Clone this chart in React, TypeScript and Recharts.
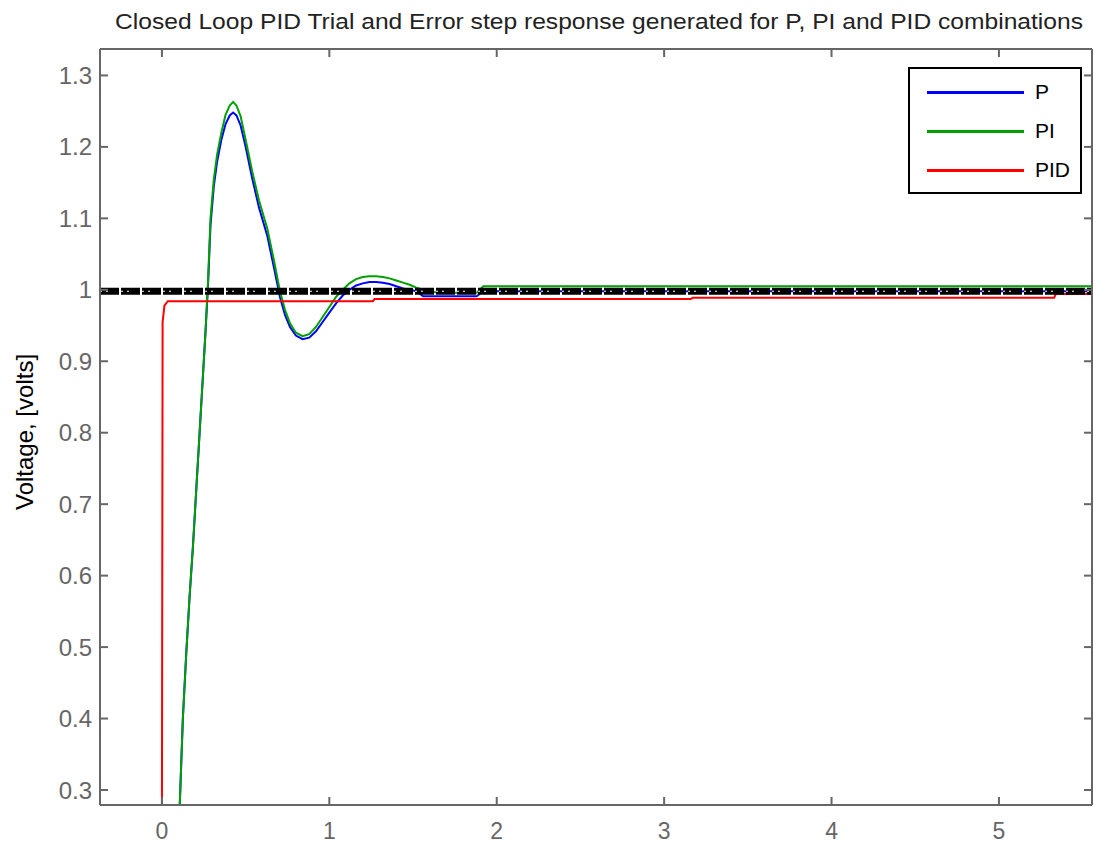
import {
  Line,
  LineChart,
  ReferenceLine,
  XAxis,
  YAxis,
} from "recharts";

const W = 1094;
const H = 843;
const FONT = "'Liberation Sans', Arial, sans-serif";
const AXIS = "#666666";

const title =
  "Closed Loop PID Trial and Error step response generated for P, PI and PID combinations";
const yLabel = "Voltage, [volts]";

const xTicks = [0, 1, 2, 3, 4, 5];
const yTicks = [0.3, 0.4, 0.5, 0.6, 0.7, 0.8, 0.9, 1.0, 1.1, 1.2, 1.3];

// time base shared by P and PI traces
const time = [
  0.105, 0.125, 0.145, 0.165, 0.185, 0.205, 0.225, 0.245, 0.26, 0.275, 0.29,
  0.31, 0.33, 0.355, 0.38, 0.405, 0.425, 0.445, 0.47, 0.5, 0.54, 0.58, 0.63,
  0.67, 0.705, 0.735, 0.765, 0.8, 0.84, 0.88, 0.92, 0.96, 1.0, 1.04, 1.08,
  1.12, 1.16, 1.2, 1.24, 1.28, 1.32, 1.36, 1.4, 1.44, 1.48, 1.52, 1.56, 1.6,
  1.65, 1.7, 1.8, 1.88, 1.92, 2.0, 5.56,
];
const pVolts = [
  0.27, 0.4, 0.49, 0.57, 0.64, 0.72, 0.8, 0.88, 0.94, 1.005, 1.09, 1.145, 1.18,
  1.21, 1.232, 1.244, 1.248, 1.244, 1.23, 1.2, 1.155, 1.115, 1.075, 1.03, 0.99,
  0.965, 0.948, 0.936, 0.931, 0.933, 0.942, 0.955, 0.968, 0.981, 0.992, 1.0,
  1.006, 1.009, 1.011, 1.011, 1.01, 1.008, 1.005, 1.002, 1.0, 0.998, 0.991,
  0.991, 0.991, 0.991, 0.991, 0.991, 0.998, 0.998, 0.998,
];
const piVolts = [
  0.27, 0.4, 0.49, 0.57, 0.64, 0.72, 0.8, 0.88, 0.94, 1.01, 1.1, 1.155, 1.19,
  1.22, 1.245, 1.258, 1.263, 1.258, 1.243, 1.21, 1.165, 1.125, 1.085, 1.04,
  0.998, 0.972, 0.953, 0.94, 0.935, 0.938, 0.948, 0.962, 0.976, 0.99, 1.0,
  1.009, 1.015, 1.018, 1.019, 1.019, 1.018, 1.016, 1.013, 1.01, 1.007, 1.003,
  1.0, 0.998, 0.996, 0.996, 0.996, 0.996, 1.005, 1.005, 1.005,
];

const pidTime = [0, 0.004, 0.015, 0.035, 1.26, 1.27, 3.16, 3.17, 5.33, 5.34, 5.56];
const pidVolts = [
  0.27, 0.955, 0.978, 0.984, 0.984, 0.987, 0.987, 0.989, 0.989, 0.994, 0.994,
];

const setPoint = 0.998;

const data = time.map((t, i) => ({ t, p: pVolts[i], pi: piVolts[i] }));
const pidData = pidTime.map((t, i) => ({ t, pid: pidVolts[i] }));

const series = [
  { key: "p", name: "P", color: "#0000ff" },
  { key: "pi", name: "PI", color: "#00a000" },
  { key: "pid", name: "PID", color: "#ff0000" },
];

const xDomain: [number, number] = [-0.37, 5.556];
const yDomain: [number, number] = [0.279, 1.337];

const tickStyle = { fontFamily: FONT, fontSize: 24, fill: AXIS };
const xTickStyle = { fontFamily: FONT, fontSize: 23, fill: AXIS };

function LegendBox() {
  return (
    <div
      style={{
        position: "absolute",
        left: 908,
        top: 67,
        width: 170,
        height: 123,
        border: "2.5px solid #000",
        background: "#fff",
        fontFamily: FONT,
        fontSize: 21,
        color: "#000",
      }}
    >
      {series.map((s, i) => (
        <div
          key={s.key}
          style={{
            position: "absolute",
            left: 17,
            top: 10 + i * 39,
            display: "flex",
            alignItems: "center",
            height: 26,
          }}
        >
          <div style={{ width: 97, height: 3, background: s.color }} />
          <span style={{ marginLeft: 11 }}>{s.name}</span>
        </div>
      ))}
    </div>
  );
}

const noTick = () => <g />;

export default function App() {
  return (
    <div
      style={{
        position: "absolute",
        left: 0,
        top: 0,
        width: W,
        height: H,
        background: "#fff",
      }}
    >
      <LineChart
        width={W}
        height={H}
        data={data}
        margin={{ top: 48, right: 1, bottom: 0, left: 0 }}
      >
        <XAxis
          dataKey="t"
          type="number"
          domain={xDomain}
          ticks={xTicks}
          allowDataOverflow
          height={38}
          tickSize={-8}
          tickMargin={26}
          tick={xTickStyle}
          stroke={AXIS}
          strokeWidth={2}
          interval={0}
        />
        <XAxis
          xAxisId="top"
          orientation="top"
          dataKey="t"
          type="number"
          domain={xDomain}
          ticks={xTicks}
          allowDataOverflow
          height={1}
          tickSize={-8}
          tick={noTick}
          stroke={AXIS}
          strokeWidth={2}
          interval={0}
        />
        <YAxis
          type="number"
          domain={yDomain}
          ticks={yTicks}
          allowDataOverflow
          width={100}
          tickSize={-8}
          tickMargin={16}
          tick={tickStyle}
          tickFormatter={(v: number) => String(+v.toFixed(1))}
          stroke={AXIS}
          strokeWidth={2}
          interval={0}
        />
        <YAxis
          yAxisId="right"
          orientation="right"
          type="number"
          domain={yDomain}
          ticks={yTicks}
          allowDataOverflow
          width={1}
          tickSize={-8}
          tick={noTick}
          stroke={AXIS}
          strokeWidth={2}
          interval={0}
        />
        <Line
          dataKey="p"
          name="P"
          stroke="#0000ff"
          strokeWidth={2}
          dot={false}
          isAnimationActive={false}
        />
        <Line
          dataKey="pi"
          name="PI"
          stroke="#00a000"
          strokeWidth={2}
          dot={false}
          isAnimationActive={false}
        />
        <Line
          data={pidData}
          dataKey="pid"
          name="PID"
          stroke="#ff0000"
          strokeWidth={2}
          dot={false}
          isAnimationActive={false}
        />
        <ReferenceLine
          y={setPoint}
          stroke="#000"
          strokeWidth={7}
          strokeDasharray="19 2"
        />
        <ReferenceLine
          y={setPoint}
          stroke="#fff"
          strokeWidth={1}
          strokeDasharray="2 4 2 13"
        />
      </LineChart>
      <LegendBox />
      <svg
        width={W}
        height={H}
        style={{ position: "absolute", left: 0, top: 0, pointerEvents: "none" }}
      >
        <text
          x={115}
          y={29}
          fontFamily={FONT}
          fontSize={22}
          fill="#222"
          textLength={968}
          lengthAdjust="spacingAndGlyphs"
        >
          {title}
        </text>
        <text
          x={33}
          y={432}
          fontFamily={FONT}
          fontSize={24}
          fill="#000"
          textAnchor="middle"
          transform="rotate(-90 33 432)"
        >
          {yLabel}
        </text>
      </svg>
    </div>
  );
}
